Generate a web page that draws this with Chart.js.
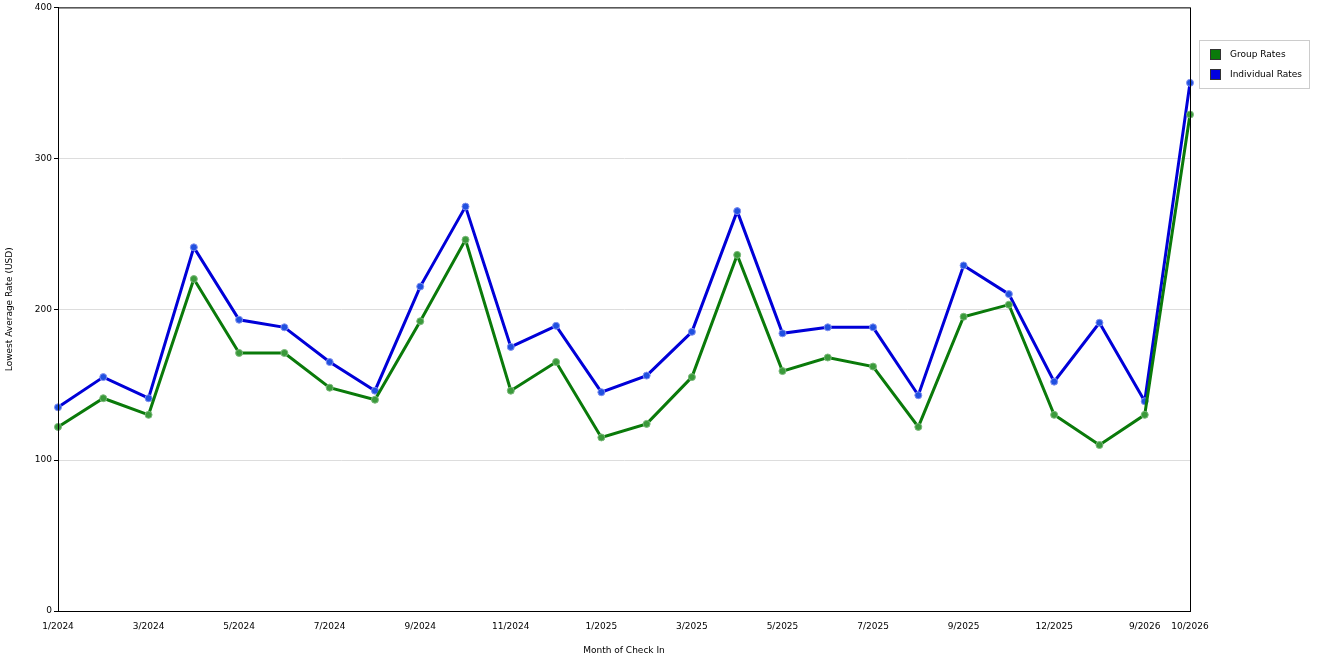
<!DOCTYPE html>
<html><head><meta charset="utf-8">
<script src="https://cdn.jsdelivr.net/npm/chart.js@4"></script>
<style>
body{margin:0;background:#fff;font-family:"DejaVu Sans",sans-serif}
#wrap{position:relative;width:1320px;height:660px}
#leg{position:absolute;left:1199px;top:40px;width:109px;height:47px;border:1px solid #ccc;font-size:9px;color:#000}
.it{position:absolute;left:10px;height:12px;line-height:12px}
.sw{display:inline-block;width:11px;height:11px;vertical-align:middle;margin-right:9px;border:1px solid #333;box-sizing:border-box}
</style></head><body>
<div id="wrap"><canvas id="c" width="1320" height="660"></canvas>
<div id="leg"><div class="it" style="top:7px"><span class="sw" style="background:#0a7a0a"></span>Group Rates</div>
<div class="it" style="top:27px"><span class="sw" style="background:#0000e0"></span>Individual Rates</div></div></div>
<script>
const categories=["1/2024","2/2024","3/2024","4/2024","5/2024","6/2024","7/2024","8/2024","9/2024","10/2024","11/2024","12/2024","1/2025","2/2025","3/2025","4/2025","5/2025","6/2025","7/2025","8/2025","9/2025","10/2025","12/2025","1/2026","9/2026","10/2026"];
const groupRates=[122,141,130,220,171,171,148,140,192,246,146,165,115,124,155,236,159,168,162,122,195,203,130,110,130,329];
const individualRates=[135,155,141,241,193,188,165,146,215,268,175,189,145,156,185,265,184,188,188,143,229,210,152,191,139,350];
const yTicks=[0,100,200,300,400];
Chart.defaults.font.family='"DejaVu Sans",sans-serif';
Chart.defaults.font.size=9;
Chart.defaults.color='#000';
new Chart(document.getElementById('c'),{type:'line',
data:{labels:categories,datasets:[
{label:'Group Rates',data:groupRates,borderColor:'#0a7a0a',backgroundColor:'#3a9a3a',pointBorderColor:'#7ab87a',borderWidth:3,pointRadius:3.5,pointBorderWidth:1,tension:0},
{label:'Individual Rates',data:individualRates,borderColor:'#0000d8',backgroundColor:'#2050e0',pointBorderColor:'#8090f0',borderWidth:3,pointRadius:3.5,pointBorderWidth:1,tension:0}]},
options:{responsive:false,animation:false,layout:{padding:{top:5,right:130,left:0,bottom:0}},
plugins:{legend:{display:false},tooltip:{enabled:false}},
scales:{
x:{offset:false,grid:{display:false,drawTicks:true},border:{color:'#000'},
 afterFit(s){s.height=49;},
 ticks:{autoSkip:false,maxRotation:0,padding:2,callback:function(v,i){return (i%2===0||i===categories.length-1)?categories[i]:'';}},
 title:{display:true,text:'Month of Check In',padding:{top:2}}},
y:{min:0,max:400,afterFit(s){s.width=58;},
 afterBuildTicks(s){s.ticks=yTicks.map(v=>({value:v}));},
 grid:{color:'#ddd',tickColor:'#000',tickLength:4},border:{color:'#000',dash:[0]},
 ticks:{padding:2},
 title:{display:true,text:'Lowest Average Rate (USD)',padding:{bottom:8}}}}},
plugins:[{id:'frame',afterDraw(ch){const a=ch.chartArea,c=ch.ctx;c.save();c.strokeStyle='#000';c.lineWidth=1;c.strokeRect(a.left+.5,a.top+.5,a.right-a.left,a.bottom-a.top);c.restore();}},
{id:'dash',beforeDatasetsDraw(ch){}}]
});
</script></body></html>
